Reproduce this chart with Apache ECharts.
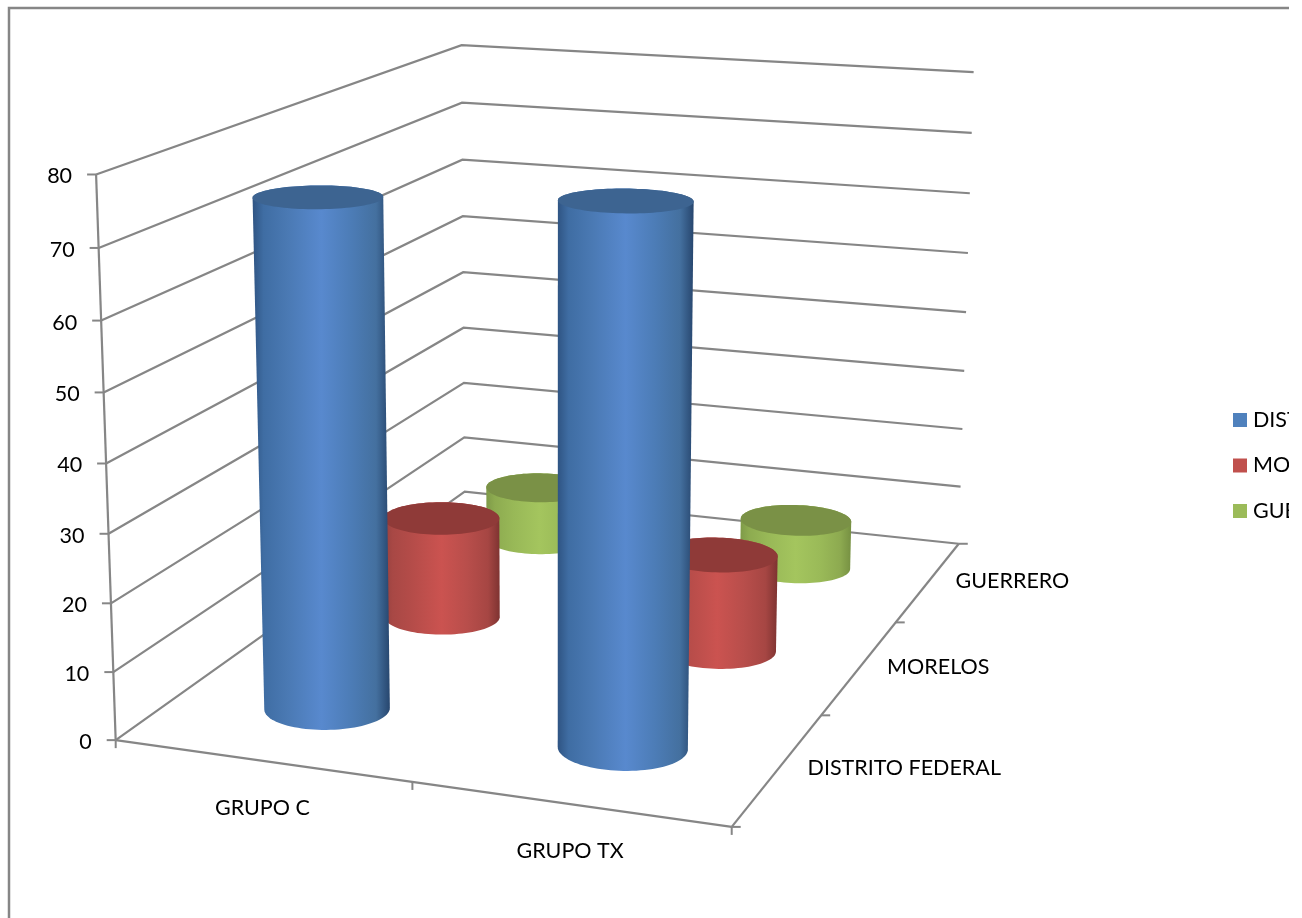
<!DOCTYPE html>
<html><head><meta charset="utf-8">
<style>html,body{margin:0;padding:0;background:#fff;overflow:hidden}#c{width:1289px;height:918px}</style>
<script src="https://cdn.jsdelivr.net/npm/echarts@6/dist/echarts.min.js"></script>
</head><body><div id="c"></div>
<script>
// ---- data ----
const categories = ['GRUPO C', 'GRUPO TX'];
const seriesNames = ['DISTRITO FEDERAL', 'MORELOS', 'GUERRERO'];
const distritoFederal = [74.5, 77];
const morelos = [16, 15];
const guerrero = [9, 8];
const valueTicks = [0, 10, 20, 30, 40, 50, 60, 70, 80];

// ---- styling and camera calibration (wall corners as seen on screen) ----
const W = 1289, H = 918, YMAX = 80;
const LINE = '#868686', TEXT = '#000000', FONT = 'Lato', FONT_SIZE = 21.5;
const camera = [
  [0,0,0,117,741],[1,0,0,731,827],[0,0,1,463,491],[1,0,1,960,543],
  [0,1,0,95,174],[0,1,1,463,45],[1,1,1,973,72],
  [0,.5,0,106.5,463],[0,.5,1,463,273],[1,.5,1,966,313]
];
const RU = 0.101, RW = 0.066;   // cylinder radius in floor units
const palette = {
  [seriesNames[0]]: {legend:'#4F81BD', top:'#3D6491', stops:['#2F5483','#3F6DA3','#4A79B3','#5889CE','#4C7CB6','#44709F','#27466E']},
  [seriesNames[1]]: {legend:'#C0504D', top:'#8F3A38', stops:['#94403E','#A84845','#B54C49','#CB5350','#B84E4B','#A64643','#7E3331']},
  [seriesNames[2]]: {legend:'#9BBB59', top:'#7A9146', stops:['#7E9A48','#8DAB50','#98B857','#A4C55E','#9ABA58','#8DAA50','#769042']}
};
const stopAt = [0, .08, .25, .5, .72, .9, 1];

function solveCamera(pts){
  const n = 11, A = Array.from({length:n},()=>new Array(n+1).fill(0));
  const add = (row,b)=>{ for(let i=0;i<n;i++){ for(let j=0;j<n;j++) A[i][j]+=row[i]*row[j]; A[i][n]+=row[i]*b; } };
  pts.forEach(([x,y,z,X,Y])=>{
    add([x,y,z,1,0,0,0,0,-X*x,-X*y,-X*z],X);
    add([0,0,0,0,x,y,z,1,-Y*x,-Y*y,-Y*z],Y);
  });
  for(let c=0;c<n;c++){
    let p=c; for(let r=c+1;r<n;r++) if(Math.abs(A[r][c])>Math.abs(A[p][c])) p=r;
    [A[c],A[p]]=[A[p],A[c]];
    for(let r=0;r<n;r++){ if(r===c) continue; const f=A[r][c]/A[c][c]; for(let k=c;k<=n;k++) A[r][k]-=f*A[c][k]; }
  }
  return A.map((r,i)=>r[n]/r[i]);
}
const P = solveCamera(camera);
function proj(u,v,w){
  const d = P[8]*u+P[9]*v+P[10]*w+1;
  return [(P[0]*u+P[1]*v+P[2]*w+P[3])/d,(P[4]*u+P[5]*v+P[6]*w+P[7])/d];
}
function hull(pts){
  pts = pts.slice().sort((a,b)=>a[0]-b[0]||a[1]-b[1]);
  const cross=(o,a,b)=>(a[0]-o[0])*(b[1]-o[1])-(a[1]-o[1])*(b[0]-o[0]);
  const lo=[],up=[];
  for(const p of pts){ while(lo.length>1&&cross(lo[lo.length-2],lo[lo.length-1],p)<=0) lo.pop(); lo.push(p); }
  for(const p of pts.slice().reverse()){ while(up.length>1&&cross(up[up.length-2],up[up.length-1],p)<=0) up.pop(); up.push(p); }
  lo.pop(); up.pop(); return lo.concat(up);
}
const line=(a,b,w)=>({type:'line',silent:true,shape:{x1:a[0],y1:a[1],x2:b[0],y2:b[1]},style:{stroke:LINE,lineWidth:w||2}});
const label=(t,x,y,align)=>({type:'text',silent:true,style:{text:t,x:x,y:y,align:align,verticalAlign:'middle',font:FONT_SIZE+'px '+FONT,fill:TEXT}});

const chart = echarts.init(document.getElementById('c'),null,{renderer:'canvas'});

// the library's hidden axes turn (category, value) and depth category into unit floor / height coordinates
function unit(api,cat,val){ const p=api.coord([cat,val]); return [p[0]/W, 1-p[1]/H]; }
function depthUnit(j){ return chart.convertToPixel({xAxisIndex:1},j)/W; }

function cylinderSeries(name,vals,j){
  const c = palette[name];
  return {
    name, type:'custom', coordinateSystem:'cartesian2d', xAxisIndex:0, yAxisIndex:0, clip:false,
    itemStyle:{color:c.legend}, z:3+(2-j),
    data: vals.map((v,i)=>[i,v]),
    renderItem(params,api){
      const [u,v]=unit(api,api.value(0),api.value(1));
      const w=depthUnit(j), bot=[], top=[];
      for(let k=0;k<96;k++){
        const a=k/96*Math.PI*2, cu=u+RU*Math.cos(a), cw=w+RW*Math.sin(a);
        bot.push(proj(cu,0,cw)); top.push(proj(cu,v,cw));
      }
      const fill=new echarts.graphic.LinearGradient(0,0,1,0,c.stops.map((color,i)=>({offset:stopAt[i],color})));
      return {type:'group',children:[
        {type:'polygon',shape:{points:hull(bot.concat(top))},style:{fill}},
        {type:'polygon',shape:{points:top},style:{fill:c.top}}
      ]};
    }
  };
}

chart.setOption({
  animation:false,
  backgroundColor:'#ffffff',
  tooltip:{show:false},
  grid:{left:0,top:0,width:W,height:H,containLabel:false},
  xAxis:[
    {type:'category',data:categories,show:false},
    {type:'category',data:seriesNames,show:false,position:'top'}
  ],
  yAxis:{type:'value',min:0,max:YMAX,interval:10,show:false},
  legend:{
    orient:'vertical',left:1233,top:409,itemWidth:14,itemHeight:14,itemGap:23.5,selectedMode:false,
    icon:'rect',data:seriesNames,textStyle:{fontFamily:FONT,fontSize:FONT_SIZE,color:TEXT,padding:[0,0,0,1]},padding:0
  },
  graphic:[{type:'polyline',silent:true,shape:{points:[[9,918],[9,8],[1289,8]]},style:{stroke:'#868686',fill:null,lineWidth:2.5}}],
  series:[
    { // value gridlines on the two walls with their tick labels
      type:'custom',coordinateSystem:'cartesian2d',xAxisIndex:0,yAxisIndex:0,clip:false,silent:true,z:1,
      data:valueTicks.map(t=>[0,t]),
      renderItem(params,api){
        const t=api.value(1), v=unit(api,0,t)[1];
        const a=proj(0,v,0), b=proj(0,v,1), c=proj(1,v,1);
        return {type:'group',children:[
          {type:'polyline',silent:true,shape:{points:[a,b,c]},style:{stroke:LINE,fill:null,lineWidth:2.2}},
          line([a[0]-9,a[1]],a),
          label(String(t),a[0]-24,a[1]+2,'right')
        ]};
      }
    },
    { // floor edges, category ticks and category labels
      type:'custom',coordinateSystem:'cartesian2d',xAxisIndex:0,yAxisIndex:0,clip:false,silent:true,z:1,
      data:[[0,0]],
      renderItem(params,api){
        const A=proj(0,0,0),B=proj(1,0,0),D=proj(1,0,1),T=proj(0,1,0);
        const kids=[line(A,B,2.2),line(B,D,2.2),line(A,T,2.2)];
        [0,.5,1].forEach(u=>{const p=proj(u,0,0);kids.push(line(p,[p[0],p[1]+8]));});
        [0,1/3,2/3,1].forEach(w=>{const p=proj(1,0,w);kids.push(line(p,[p[0]+9,p[1]]));});
        categories.forEach((c,i)=>{
          const u=api.coord([i,0])[0]/W, p=proj(u,0,0);
          kids.push(label(c,p[0]+1,p[1]+47,'center'));
        });
        const nudge=[[29,0],[27,0],[27,0]];
        seriesNames.forEach((s,j)=>{
          const p=proj(1,0,depthUnit(j));
          kids.push(label(s,p[0]+nudge[j][0],p[1]+nudge[j][1],'left'));
        });
        return {type:'group',children:kids};
      }
    },
    cylinderSeries(seriesNames[2],guerrero,2),
    cylinderSeries(seriesNames[1],morelos,1),
    cylinderSeries(seriesNames[0],distritoFederal,0)
  ]
});
</script></body></html>
